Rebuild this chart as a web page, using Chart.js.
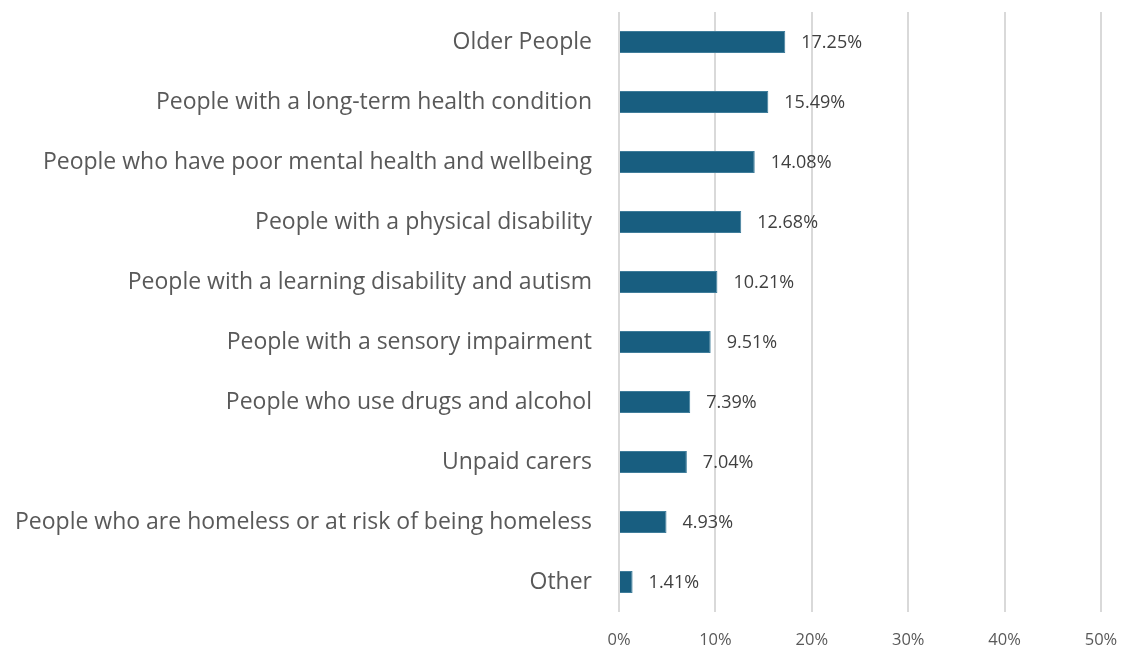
<!DOCTYPE html>
<html>
<head>
<meta charset="utf-8">
<script src="https://cdn.jsdelivr.net/npm/chart.js@4.4.1/dist/chart.umd.min.js"></script>
<style>
  html, body { margin: 0; padding: 0; background: #ffffff; }
  #wrap { width: 1124px; height: 651px; }
</style>
</head>
<body>
<div id="wrap"><canvas id="c" width="1124" height="651"></canvas></div>
<script>
// Groups and their share of responses (%)
const categories = [
  "Older People",
  "People with a long-term health condition",
  "People who have poor mental health and wellbeing",
  "People with a physical disability",
  "People with a learning disability and autism",
  "People with a sensory impairment",
  "People who use drugs and alcohol",
  "Unpaid carers",
  "People who are homeless or at risk of being homeless",
  "Other"
];
const shares = [17.25, 15.49, 14.08, 12.68, 10.21, 9.51, 7.39, 7.04, 4.93, 1.41];
const tickValues = [0, 10, 20, 30, 40, 50];

const FONT = "'Open Sans', 'Liberation Sans', sans-serif";

// Writes each bar's value just past its end
const valueLabels = {
  id: 'valueLabels',
  afterDatasetsDraw(chart) {
    const ctx = chart.ctx;
    const meta = chart.getDatasetMeta(0);
    ctx.save();
    ctx.font = "18px " + FONT;
    ctx.fillStyle = "#404040";
    ctx.textAlign = "left";
    ctx.textBaseline = "middle";
    meta.data.forEach((bar, i) => {
      ctx.fillText(shares[i].toFixed(2) + "%", bar.x + 16, bar.y + 1);
    });
    ctx.restore();
  }
};

new Chart(document.getElementById('c'), {
  type: 'bar',
  data: {
    labels: categories,
    datasets: [{
      data: shares,
      backgroundColor: '#185e80',
      borderColor: '#3f7d9b',
      borderWidth: 1,
      categoryPercentage: 0.6,
      barPercentage: 0.61
    }]
  },
  options: {
    indexAxis: 'y',
    responsive: false,
    animation: false,
    devicePixelRatio: 1,
    layout: { padding: { top: 12, right: 23, bottom: 0, left: 0 } },
    plugins: {
      legend: { display: false },
      tooltip: { enabled: false }
    },
    scales: {
      x: {
        min: 0,
        max: 50,
        afterBuildTicks(scale) {
          scale.ticks = tickValues.map(v => ({ value: v }));
        },
        afterFit(scale) {
          scale.height = 39;
          scale.paddingLeft = 0;
          scale.paddingRight = 0;
        },
        grid: { color: '#d9d9d9', lineWidth: 2, drawTicks: false },
        border: { display: false },
        ticks: {
          padding: 18,
          color: '#595959',
          font: { family: FONT, size: 16.5 },
          callback: v => v + '%'
        }
      },
      y: {
        afterFit(scale) {
          scale.width = 619;
          scale.paddingTop = 0;
          scale.paddingBottom = 0;
        },
        grid: { display: false },
        border: { display: false },
        ticks: {
          padding: 19,
          color: '#595959',
          font: { family: FONT, size: 23 },
          autoSkip: false
        }
      }
    }
  },
  plugins: [valueLabels]
});
</script>
</body>
</html>
